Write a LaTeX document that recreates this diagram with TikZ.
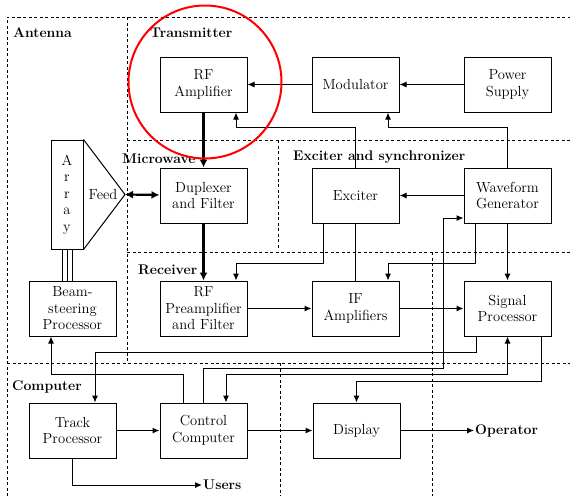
\documentclass[tikz,border=0pt]{standalone}
\usepackage{tikz}
\usetikzlibrary{arrows.meta}

\begin{document}
\begin{tikzpicture}[x=1pt, y=-1pt,
    block/.style={draw, line width=1pt, minimum width=87pt, minimum height=55pt,
        align=center, inner sep=1pt, font=\fontsize{14.6}{16.5}\selectfont},
    region/.style={line width=1pt, dash pattern=on 3pt off 2.5pt},
    grouplabel/.style={anchor=west, inner sep=0pt, font=\fontsize{14}{16}\selectfont\bfseries},
    wire/.style={line width=1pt},
    arr/.style={wire, -{Latex[length=7pt,width=6pt]}},
    botharr/.style={wire, {Latex[length=7pt,width=6pt]}-{Latex[length=7pt,width=6pt]}},
    heavyarr/.style={line width=2.2pt, -{Latex[length=8pt,width=8pt]}},
    heavyboth/.style={line width=2.2pt, {Latex[length=8pt,width=8pt]}-{Latex[length=8pt,width=8pt]}}]
    \useasboundingbox (0,0) rectangle (570,496);

    % Draw the dashed subsystem borders
    \draw[region] (7,496) -- (7,17) -- (570,17);
    \draw[region] (127,17) -- (127,363);
    \draw[region] (127,140) -- (570,140);
    \draw[region] (278,140) -- (278,250);
    \draw[region] (127,252) -- (570,252);
    \draw[region] (7,363) -- (570,363);
    \draw[region] (280,363) -- (280,496);
    \draw[region] (432,252) -- (432,496);

    % Subsystem names
    \node[grouplabel] (antenna) at (13,33) {Antenna};
    \node[grouplabel] (transmitter) at (150,33) {Transmitter};
    \node[grouplabel] (microwave) at (122,159) {Microwave};
    \node[grouplabel] (exciter) at (293,157) {Exciter and synchronizer};
    \node[grouplabel] (receiver) at (138,270) {Receiver};
    \node[grouplabel] (computer) at (12,387) {Computer};

    % Blocks, row by row
    \node[block] (rfamp) at (203.5,84.5) {RF\\Amplifier};
    \node[block] (mod) at (355.5,84.5) {Modulator};
    \node[block] (power) at (507.5,84.5) {Power\\Supply};
    \node[block] (dup) at (203.5,195.5) {Duplexer\\and Filter};
    \node[block] (exc) at (355.5,195.5) {Exciter};
    \node[block] (wave) at (507.5,195.5) {Waveform\\Generator};
    \node[block] (beam) at (72.5,308.5) {Beam-\\steering\\Processor};
    \node[block] (pre) at (203.5,308.5) {RF\\Preamplifier\\and Filter};
    \node[block] (ifamp) at (355.5,308.5) {IF\\Amplifiers};
    \node[block] (sig) at (507.5,308.5) {Signal\\Processor};
    \node[block] (track) at (72.5,430.5) {Track\\Processor};
    \node[block] (ctrl) at (203.5,430.5) {Control\\Computer};
    \node[block] (disp) at (356.5,430.5) {Display};

    % The array with its feed horn
    \node[draw, line width=1pt, minimum width=32pt, minimum height=109pt, inner sep=0pt,
        align=center, font=\fontsize{14.6}{16.5}\selectfont] (array) at (67,194.5) {A\\r\\r\\a\\y};
    \coordinate (feedtip) at (125,194.5);
    \draw[line width=1pt] (array.north east) -- (feedtip) -- (array.south east);
    \node[font=\fontsize{14.6}{16.5}\selectfont] (feed) at (103,194.5) {Feed};

    % Outputs
    \node[grouplabel, inner sep=1pt] (oper) at (474,430.5) {Operator};
    \node[grouplabel, inner sep=1pt] (users) at (202,485) {Users};

    % Transmitter chain
    \draw[arr] (power) -- (mod);
    \draw[arr] (mod) -- (rfamp);
    \draw[arr] (exc.north) -- ++(0,-40) -| ([xshift=32.5pt]rfamp.south);
    \draw[arr] (wave.north) -- ++(0,-40) -| ([xshift=32.5pt]mod.south);
    \draw[heavyarr] (rfamp) -- (dup);
    \draw[heavyboth] (feedtip) -- (dup);
    \draw[heavyarr] (dup) -- (pre);

    % Exciter and synchronizer
    \draw[arr] (wave) -- (exc);
    \draw[arr] ([xshift=-32.5pt]exc.south) -- ++(0,40) -| ([xshift=32.5pt]pre.north);
    \draw[wire] (exc) -- (ifamp);
    \draw[arr] ([xshift=-32.5pt]wave.south) -- ++(0,40) -| ([xshift=32.5pt]ifamp.north);
    \draw[arr] (wave) -- (sig);

    % Receiver chain
    \draw[arr] (pre) -- (ifamp);
    \draw[arr] (ifamp) -- (sig);

    % Beam steering lines to the array
    \foreach \dx in {-5,0,5}
        \draw[wire] ([xshift=\dx pt]array.south) -- ([xshift=\dx pt]array.south |- beam.north);

    % Computer connections
    \draw[arr] ([xshift=-31.5pt]sig.south) -- ++(0,16) -| ([xshift=22.5pt]track.north);
    \draw[arr] ([xshift=-20.5pt]ctrl.north) -- ++(0,-28) -| ([xshift=-21.5pt]beam.south);
    \draw[arr] (ctrl.north) -- ++(0,-34) -- ++(239.5,0) |- ([yshift=-22.5pt]wave.west);
    \draw[botharr] ([xshift=22.5pt]ctrl.north) -- ++(0,-28) -| (sig.south);
    \draw[arr] ([xshift=33.5pt]sig.south) -- ++(0,45) -| (disp.north);
    \draw[arr] (track) -- (ctrl);
    \draw[arr] (ctrl) -- (disp);
    \draw[arr] (disp) -- (oper);
    \draw[arr] (track.south) |- (users);

    % Highlight round the RF amplifier
    \draw[red, line width=2pt] (205,82) circle (76.5pt);
\end{tikzpicture}
\end{document}
